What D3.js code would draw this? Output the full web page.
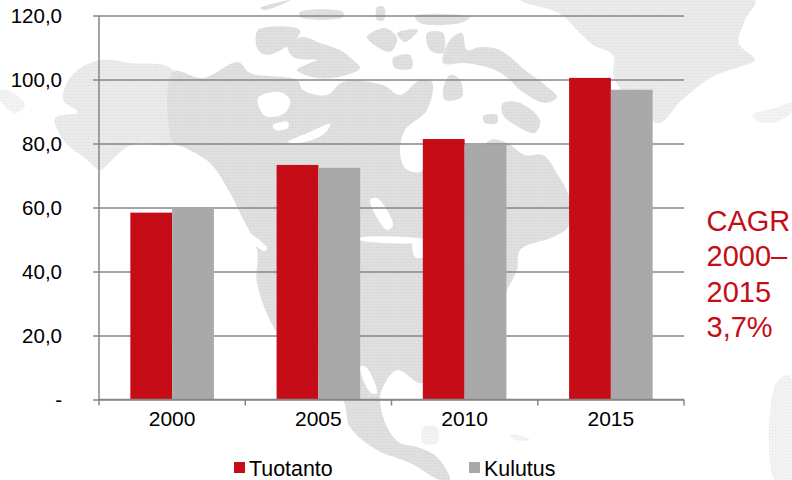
<!DOCTYPE html>
<html>
<head>
<meta charset="utf-8">
<script src="https://cdn.jsdelivr.net/npm/d3@7"></script>
<style>
body { margin: 0; background: #fff; }
text { font-family: "Liberation Sans", Arial, sans-serif; }
.domain, .tick line { stroke: #868686; stroke-width: 1.5; }
</style>
</head>
<body>
<div id="chart"></div>
<script>
// chart values
var years = ["2000", "2005", "2010", "2015"];
var tuotanto = [58.4, 73.3, 81.4, 100.5];
var kulutus = [60.0, 72.4, 79.7, 96.8];
var yTicks = [0, 20, 40, 60, 80, 100, 120];
var yTickLabels = ["-", "20,0", "40,0", "60,0", "80,0", "100,0", "120,0"];
var seriesNames = ["Tuotanto", "Kulutus"];
var cagrLines = ["CAGR", "2000–", "2015", "3,7%"];

// rough outlines of the background map, in page pixels
var mapDark = [
  // canada + usa + mexico
  [[173,72],[203,78],[238,62],[250,73],[297,80],[303,90],[327,95],[343,82],[383,85],[400,95],[420,80],[432,82],[427,110],[405,130],[400,150],[405,168],[420,172],[430,158],[447,150],[470,165],[490,140],[507,143],[525,155],[543,155],[558,175],[570,200],[568,227],[553,237],[520,250],[517,270],[507,290],[500,310],[470,320],[440,335],[423,383],[397,370],[383,387],[380,400],[387,427],[400,443],[417,447],[437,457],[450,480],[440,480],[410,463],[377,450],[350,427],[343,400],[310,368],[277,333],[257,283],[257,250],[240,213],[230,193],[210,163],[183,147],[173,143]],
  // arctic islands
  [[258,30],[300,30],[295,40],[268,55],[258,50]],
  [[288,43],[303,37],[320,43],[340,50],[353,60],[360,68],[347,75],[317,78],[297,70],[310,63],[317,60],[295,58],[288,50]],
  [[260,8],[290,0],[285,3],[265,10]],
  [[300,12],[343,12],[343,17],[300,17]],
  [[367,37],[385,28],[397,38],[390,52]],
  [[393,58],[410,55],[412,68],[395,68]],
  [[397,33],[418,30],[405,42]],
  [[377,7],[384,7],[384,20],[377,20]],
  [[415,16],[470,17],[460,23],[420,23]],
  [[427,33],[443,33],[443,53],[430,50]],
  [[443,90],[450,75],[460,80],[462,97],[445,100]],
  [[443,63],[450,40],[462,33],[467,50],[480,47],[500,50],[525,70],[545,85],[557,97],[545,103],[520,90],[510,80],[495,70],[465,63]],
  [[503,103],[520,103],[540,120],[535,133],[515,125],[503,115]],
  [[483,116],[497,115],[497,123],[485,123]]
];
var mapLight = [
  // alaska
  [[63,100],[72,75],[100,60],[130,63],[173,70],[173,143],[140,143],[127,147],[110,162],[100,170],[85,158],[65,142],[55,118],[78,112]],
  // greenland
  [[520,0],[755,0],[745,20],[739,43],[755,60],[739,67],[712,77],[682,100],[659,123],[640,110],[614,78],[613,55],[593,45],[580,33],[560,14]]
];
var mapFaint = [
  [[0,90],[12,92],[25,105],[15,113],[0,100]],
  [[752,115],[775,108],[792,103],[792,112],[775,122],[760,122]],
  [[775,385],[787,375],[792,380],[792,480],[775,480]],
  [[510,435],[520,435],[530,440],[515,440]],
  [[423,427],[437,427],[437,443],[423,443]]
];
var mapHoles = [
  [[258,98],[280,92],[290,100],[285,113],[265,116]],
  [[273,125],[288,122],[288,128],[275,130]],
  [[288,142],[310,132],[330,124],[325,133],[305,142]],
  [[370,200],[377,198],[393,225],[387,230]],
  [[413,243],[423,243],[423,257],[415,257]],
  [[360,238],[425,240],[425,242],[360,240]],
  [[240,228],[267,248],[265,251],[238,230]],
  [[360,367],[366,367],[377,393],[371,393]]
];

var width = 792, height = 480;
var margin = {top: 15.5, left: 99, right: 108, bottom: 80.5};

var svg = d3.select("#chart").append("svg")
  .attr("width", width)
  .attr("height", height);

// halftone look of the map, slightly blurred like the scanned original
var defs = svg.append("defs");
[["dotsDark", "#e0e0e0", "#d6d6d6"], ["dotsLight", "#ebebeb", "#e1e1e1"], ["dotsFaint", "#f3f3f3", "#eaeaea"]].forEach(function(p) {
  var pat = defs.append("pattern")
    .attr("id", p[0])
    .attr("width", 3).attr("height", 3)
    .attr("patternUnits", "userSpaceOnUse");
  pat.append("rect").attr("width", 3).attr("height", 3).attr("fill", p[1]);
  pat.append("circle").attr("cx", 1.5).attr("cy", 1.5).attr("r", 0.8).attr("fill", p[2]);
});
defs.append("filter").attr("id", "soft")
  .append("feGaussianBlur").attr("stdDeviation", 0.7);

var outline = d3.line().curve(d3.curveCatmullRomClosed.alpha(0.5));
var bg = svg.append("g").attr("filter", "url(#soft)");
bg.selectAll("path.faint").data(mapFaint).enter().append("path")
  .attr("class", "faint").attr("d", outline).attr("fill", "url(#dotsFaint)");
bg.selectAll("path.light").data(mapLight).enter().append("path")
  .attr("class", "light").attr("d", outline).attr("fill", "url(#dotsLight)");
bg.selectAll("path.dark").data(mapDark).enter().append("path")
  .attr("class", "dark").attr("d", outline).attr("fill", "url(#dotsDark)");
bg.selectAll("path.hole").data(mapHoles).enter().append("path")
  .attr("class", "hole").attr("d", outline).attr("fill", "#fff");

var x = d3.scaleBand()
  .domain(years)
  .range([margin.left, width - margin.right]);
var inner = d3.scaleBand()
  .domain(seriesNames)
  .range([0, x.bandwidth()])
  .paddingInner(0)
  .paddingOuter(0.75);
var y = d3.scaleLinear()
  .domain([0, 120])
  .range([height - margin.bottom, margin.top]);

// y axis, ticks stretched out into the gridlines
var yAxis = svg.append("g")
  .attr("transform", "translate(" + margin.left + ",0)")
  .call(d3.axisLeft(y)
    .tickValues(yTicks)
    .tickSize(6)
    .tickFormat(function(d, i) { return yTickLabels[i]; }));
yAxis.select(".domain").attr("d", "M0," + y(120) + "V" + y(0));
yAxis.selectAll(".tick text")
  .attr("x", -37)
  .style("font-size", "20.5px")
  .attr("fill", "#000");
yAxis.selectAll(".tick").append("line")
  .attr("x1", 0)
  .attr("x2", width - margin.right - margin.left);

// bars
var colors = {Tuotanto: "#c60c17", Kulutus: "#a9a9a9"};
var values = {Tuotanto: tuotanto, Kulutus: kulutus};
seriesNames.forEach(function(name) {
  svg.append("g").selectAll("rect")
    .data(values[name])
    .enter().append("rect")
    .attr("x", function(d, i) { return x(years[i]) + inner(name); })
    .attr("y", function(d) { return y(d); })
    .attr("width", inner.bandwidth())
    .attr("height", function(d) { return y(0) - y(d); })
    .attr("fill", colors[name]);
});

// x axis with ticks at the category edges
var xAxis = svg.append("g")
  .attr("transform", "translate(0," + y(0) + ")")
  .call(d3.axisBottom(x).tickSize(0).tickPadding(12));
xAxis.select(".domain").attr("d", "M" + margin.left + ",0H" + (width - margin.right));
xAxis.selectAll(".tick text")
  .style("font-size", "21px")
  .attr("fill", "#000");
xAxis.selectAll("line.edge")
  .data(years.concat("end"))
  .enter().append("line")
  .attr("class", "edge")
  .attr("x1", function(d, i) { return margin.left + i * x.step(); })
  .attr("x2", function(d, i) { return margin.left + i * x.step(); })
  .attr("y1", 0)
  .attr("y2", 6)
  .attr("stroke", "#868686")
  .attr("stroke-width", 1.5);

// legend
var legendX = [234, 469];
seriesNames.forEach(function(name, i) {
  svg.append("rect")
    .attr("x", legendX[i]).attr("y", 462)
    .attr("width", 11).attr("height", 11)
    .attr("fill", colors[name]);
  svg.append("text")
    .attr("x", legendX[i] + 15).attr("y", 475.5)
    .style("font-size", "21.4px")
    .attr("fill", "#000")
    .text(name);
});

// CAGR note
svg.append("g").selectAll("text")
  .data(cagrLines)
  .enter().append("text")
  .attr("x", 706.5)
  .attr("y", function(d, i) { return 231 + i * 35.4; })
  .style("font-size", "29px")
  .attr("fill", "#c60c17")
  .text(function(d) { return d; });
</script>
</body>
</html>
